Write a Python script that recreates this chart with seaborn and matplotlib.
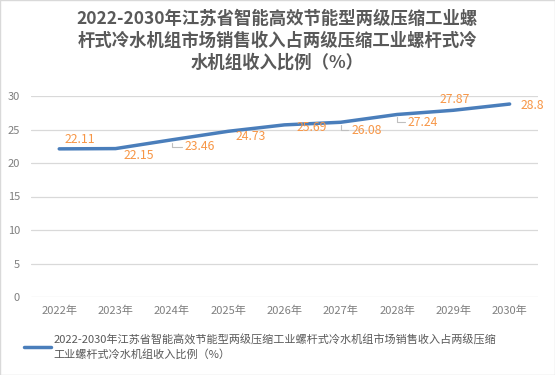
import numpy as np
import pandas as pd
import matplotlib
matplotlib.use('Agg')
import matplotlib.pyplot as plt
import seaborn as sns
from matplotlib.patches import Rectangle

years = ['2022年', '2023年', '2024年', '2025年', '2026年', '2027年', '2028年', '2029年', '2030年']
ratio = [22.11, 22.15, 23.46, 24.73, 25.69, 26.08, 27.24, 27.87, 28.8]
label_text = ['22.11', '22.15', '23.46', '24.73', '25.69', '26.08', '27.24', '27.87', '28.8']

title = ('2022-2030年江苏省智能高效节能型两级压缩工业螺\n'
         '杆式冷水机组市场销售收入占两级压缩工业螺杆式冷\n'
         '水机组收入比例（%）')
series_name = ('2022-2030年江苏省智能高效节能型两级压缩工业螺杆式冷水机组市场销售收入占两级压缩\n'
               '工业螺杆式冷水机组收入比例（%）')


def main():
    sns.set_theme(style='white')
    plt.rcParams['font.family'] = ['Noto Sans CJK SC', 'DejaVu Sans']

    df = pd.DataFrame({'year': years, 'ratio': ratio})

    fig = plt.figure(figsize=(5.55, 3.75), dpi=100)
    ax = fig.add_axes([0.056, 0.208, 0.913, 0.536])

    line_color = '#4a7ebb'
    sns.lineplot(data=df, x='year', y='ratio', ax=ax, color=line_color,
                 linewidth=2.5, label=series_name, legend=False)

    ax.set_ylim(0, 30)
    ax.set_xlim(-0.5, len(years) - 0.5)
    ax.set_yticks(np.arange(0, 31, 5))
    ax.yaxis.grid(True, color='#d9d9d9', linewidth=0.9)
    ax.xaxis.grid(False)
    for s in ax.spines.values():
        s.set_visible(False)
    ax.tick_params(axis='both', colors='#7f7f7f', labelsize=8, length=0)
    ax.tick_params(axis='y', pad=8)
    ax.tick_params(axis='x', pad=6)
    ax.set_xlabel('')
    ax.set_ylabel('')

    # label offsets in pixels (dx, dy), and whether a leader line is drawn
    offsets = [(5, 9), (8, -7), (13, -7), (7, -5), (12, -3),
               (11, -8), (11, -8), (-14, 11), (11, -1)]
    leaders = [False, False, True, False, False, True, True, False, False]
    for i, (v, t) in enumerate(zip(ratio, label_text)):
        dx, dy = offsets[i]
        props = None
        if leaders[i]:
            props = dict(arrowstyle='-', color='#bfbfbf', lw=0.8,
                         connectionstyle='angle,angleA=0,angleB=90',
                         shrinkA=0, shrinkB=2)
        ax.annotate(t, (i, v), xytext=(dx, dy), textcoords='offset pixels',
                    ha='left', va='center', fontsize=8.8, color='#f79646',
                    arrowprops=props)

    fig.suptitle(title, x=0.5, y=0.975, fontsize=12.5, fontweight='bold',
                 color='#595959', linespacing=1.3)

    leg = fig.legend(handles=ax.get_lines()[:1], labels=[series_name],
                     loc='upper left', bbox_to_anchor=(0.043, 0.108),
                     frameon=False, fontsize=8, handlelength=2.4,
                     handletextpad=0.3, borderpad=0, borderaxespad=0,
                     labelcolor='#595959')
    for t in leg.get_texts():
        t.set_linespacing(1.45)

    fig.patches.append(Rectangle((0, 0), 1, 1, transform=fig.transFigure,
                                 fill=False, edgecolor='#d9d9d9', linewidth=1))

    fig.savefig('out.png', dpi=100)


if __name__ == '__main__':
    main()
